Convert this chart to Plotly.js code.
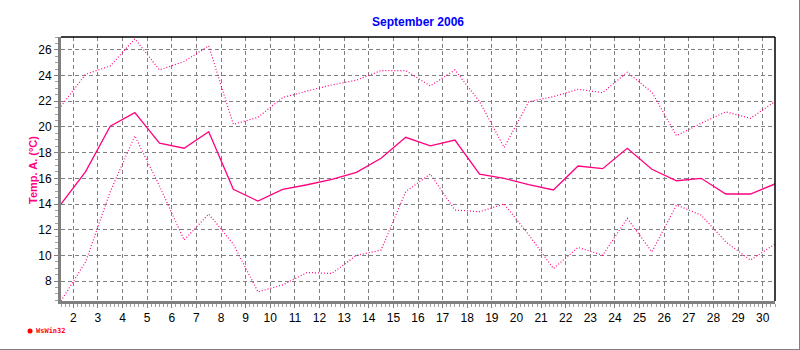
<!DOCTYPE html>
<html>
<head>
<meta charset="utf-8">
<script src="https://cdn.plot.ly/plotly-3.0.1.min.js"></script>
<style>
  html, body { margin: 0; padding: 0; background: #fff; }
  #chart { width: 800px; height: 350px; }
</style>
</head>
<body>
<div id="chart"></div>
<script>
// Day of month (values plotted at mid-day)
const days = [1,2,3,4,5,6,7,8,9,10,11,12,13,14,15,16,17,18,19,20,21,22,23,24,25,26,27,28,29,30];
// Daily maximum temperature (°C)
const tempMax = [21.6,24.1,24.75,26.86,24.44,25.09,26.31,20.2,20.75,22.28,22.8,23.27,23.64,24.39,24.39,23.19,24.44,21.97,18.4,21.97,22.36,22.93,22.67,24.26,22.7,19.32,20.29,21.17,20.67,21.97];
// Daily mean temperature (°C)
const tempMean = [14.0,16.52,20.05,21.11,18.73,18.34,19.63,15.14,14.23,15.14,15.5,15.92,16.47,17.56,19.19,18.52,18.98,16.33,16.0,15.5,15.09,16.96,16.75,18.34,16.7,15.81,16.0,14.78,14.78,15.56];
// Daily minimum temperature (°C)
const tempMin = [6.45,9.5,14.96,19.3,15.4,11.2,13.22,10.88,7.16,7.7,8.67,8.59,10.0,10.41,14.96,16.33,13.53,13.4,14.0,11.6,8.98,10.62,10.02,12.88,10.28,13.92,13.14,11.06,9.63,10.88];
const xTicks = [2,3,4,5,6,7,8,9,10,11,12,13,14,15,16,17,18,19,20,21,22,23,24,25,26,27,28,29,30];
const yTicks = [8,10,12,14,16,18,20,22,24,26];

const xs = days.map(d => d + 0.5);
const pink = '#ff0080';

const traces = [
  { x: xs, y: tempMax, type: 'scatter', mode: 'lines', line: { color: pink, width: 1.2, dash: '1px,2px' }, hoverinfo: 'skip' },
  { x: xs, y: tempMin, type: 'scatter', mode: 'lines', line: { color: pink, width: 1.2, dash: '1px,2px' }, hoverinfo: 'skip' },
  { x: xs, y: tempMean, type: 'scatter', mode: 'lines', line: { color: pink, width: 1.3 }, hoverinfo: 'skip' }
];

const L = 61, R = 775, T = 37, B = 301, W = 800, H = 350;
const px = v => (v - L) / (R - L);
const py = v => (B - v) / (B - T);

const layout = {
  width: W, height: H,
  margin: { l: L, r: W - R, t: T, b: H - B, pad: 0 },
  paper_bgcolor: '#ffffff', plot_bgcolor: '#ffffff',
  showlegend: false,
  font: { family: 'Liberation Sans, Arial, sans-serif', size: 12, color: '#000' },
  title: { text: '<b>September 2006</b>', font: { family: 'Liberation Sans, Arial, sans-serif', size: 12, color: '#0000ff' },
           x: 0.5, xref: 'paper', xanchor: 'center', y: 1 - 22 / H, yref: 'container', yanchor: 'middle' },
  xaxis: {
    range: [1.5, 30.5], tickmode: 'array', tickvals: xTicks, ticktext: xTicks.map(String),
    showgrid: true, gridcolor: '#808080', gridwidth: 1, griddash: '4px,3px',
    zeroline: false, showline: true, linecolor: '#808080', linewidth: 3,
    ticks: 'outside', ticklen: 4, tickcolor: '#808080', tickwidth: 1,
    minor: { dtick: 1/6, tick0: 1.5, ticks: 'outside', ticklen: 3, tickcolor: '#a0a0a0', showgrid: false },
    tickfont: { size: 12, color: '#000' }, fixedrange: true
  },
  yaxis: {
    range: [6.45, 27.0], tickmode: 'array', tickvals: yTicks, ticktext: yTicks.map(String),
    showgrid: true, gridcolor: '#808080', gridwidth: 1, griddash: '4px,3px',
    zeroline: false, showline: true, linecolor: '#808080', linewidth: 3,
    ticks: 'outside', ticklen: 4, tickcolor: '#808080', tickwidth: 1,
    minor: { dtick: 0.5, ticks: 'outside', ticklen: 3, tickcolor: '#a0a0a0', showgrid: false },
    tickfont: { size: 12, color: '#000' }, fixedrange: true
  },
  shapes: [
    { type: 'line', xref: 'paper', yref: 'paper', x0: 0, x1: 1, y0: 1, y1: 1, line: { color: '#000', width: 1.5 } },
    { type: 'line', xref: 'paper', yref: 'paper', x0: 1, x1: 1, y0: 0, y1: 1, line: { color: '#000', width: 1.5 } },
    { type: 'line', xref: 'paper', yref: 'paper', x0: px(799.5), x1: px(799.5), y0: py(0), y1: py(350), line: { color: '#808080', width: 1 } },
    { type: 'line', xref: 'paper', yref: 'paper', x0: px(0), x1: px(800), y0: py(349.5), y1: py(349.5), line: { color: '#808080', width: 1 } },
    { type: 'circle', xref: 'paper', yref: 'paper', x0: px(27.5), x1: px(32.5), y0: py(333.5), y1: py(328.5), fillcolor: '#ff0000', line: { color: '#ff0000', width: 0 } }
  ],
  annotations: [
    { text: '<b>Temp. A. (°C)</b>', xref: 'paper', yref: 'paper', x: px(33), y: py(170), xanchor: 'center', yanchor: 'middle',
      textangle: -90, showarrow: false, font: { family: 'Liberation Sans, Arial, sans-serif', size: 11, color: pink } },
    { text: '<b>WsWin32</b>', xref: 'paper', yref: 'paper', x: px(34), y: py(331), xanchor: 'left', yanchor: 'middle',
      showarrow: false, font: { family: 'DejaVu Sans Mono, monospace', size: 7, color: '#ff0000' } }
  ]
};

Plotly.newPlot('chart', traces, layout, { displayModeBar: false, staticPlot: true });
</script>
</body>
</html>
